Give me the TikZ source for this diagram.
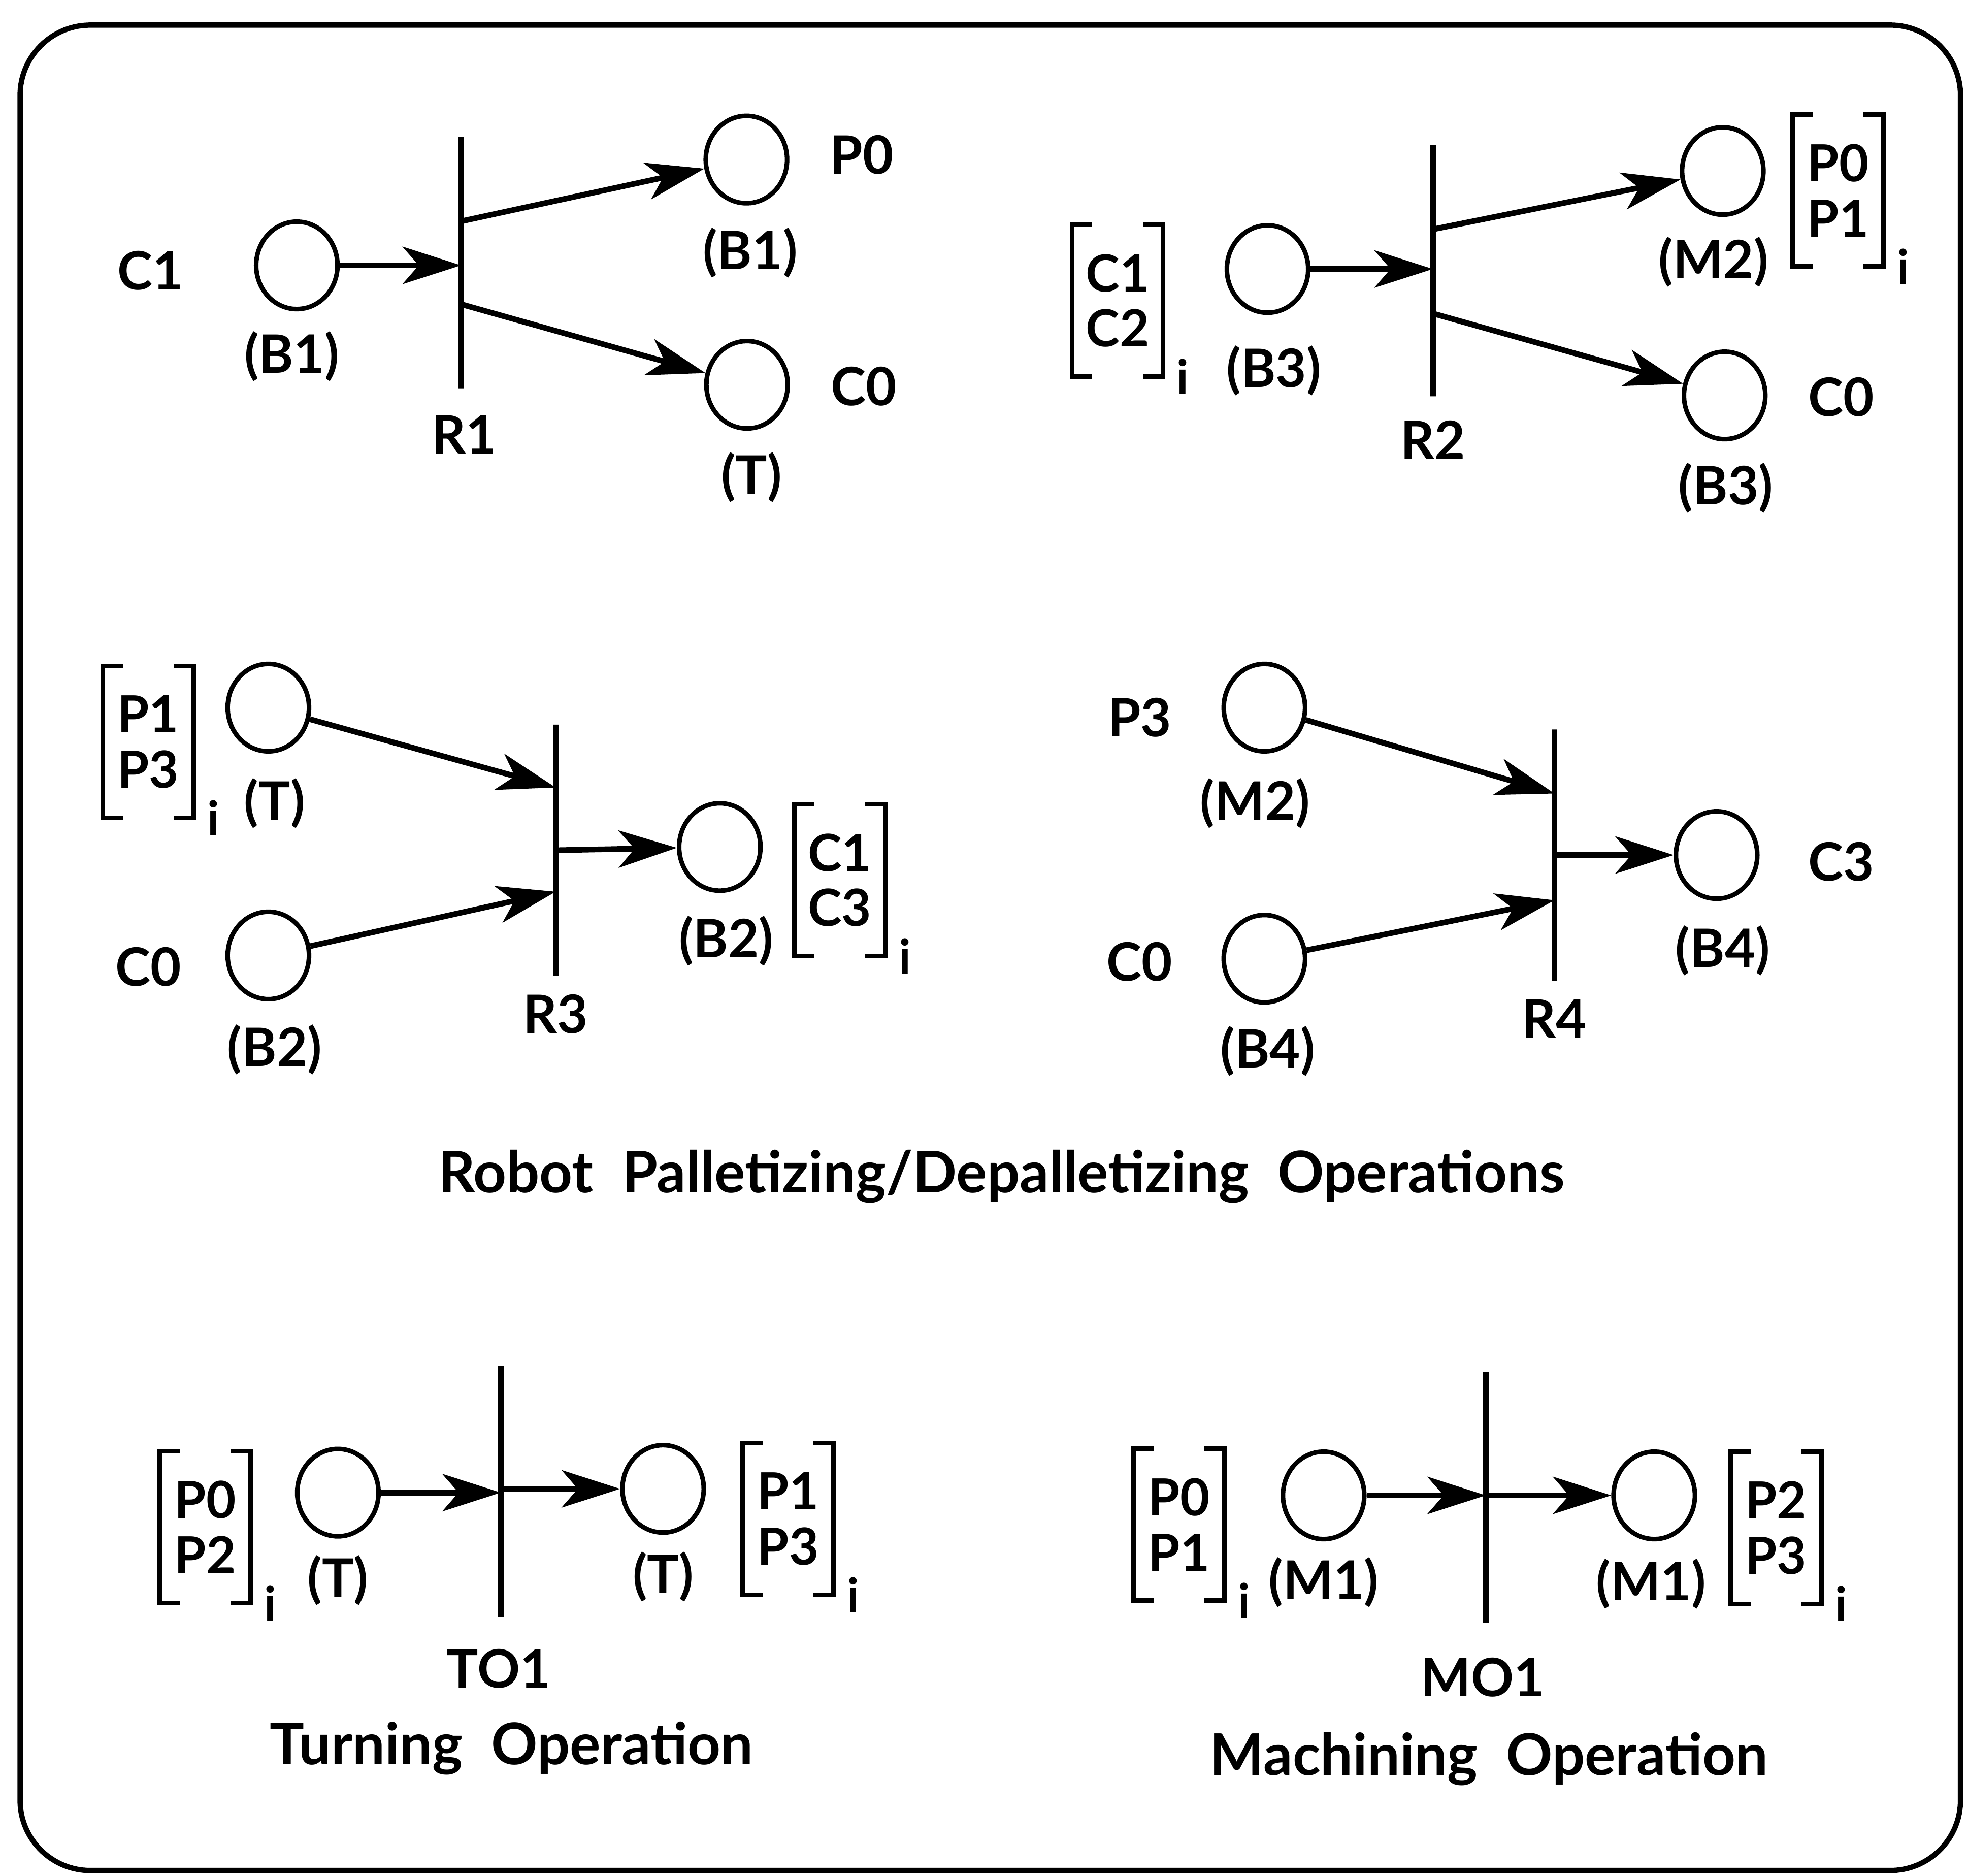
\documentclass[tikz,border=0pt]{standalone}
\usepackage{fontspec}
\setmainfont{Lato}
\usetikzlibrary{arrows.meta,shapes.geometric,calc}
\tikzset{
	place/.style={
		draw, ellipse, minimum width=0.81cm, minimum height=0.87cm,
		inner sep=0pt, line width=1.3pt
	},
	trans/.style={
		draw, rectangle, minimum width=0pt, minimum height=2.5cm,
		inner sep=0pt, line width=1.6pt
	},
	arc/.style={-{Stealth[length=0.58cm, width=0.37cm, inset=0.16cm]}, line width=1.6pt},
	lbl/.style={font=\fontsize{15}{18}\selectfont\bfseries, inner sep=0pt},
	caption/.style={font=\fontsize{16.3}{19}\selectfont\bfseries, inner sep=0pt},
	vec/.style={
		align=center, font=\fontsize{14.5}{15.6}\selectfont\bfseries,
		minimum width=0.89cm, minimum height=1.5cm, inner sep=0pt
	},
	brk/.style={line width=1.3pt},
	sub/.style={font=\fontsize{13.5}{15}\selectfont\bfseries, inner sep=0pt, anchor=west},
	frame/.style={line width=1.5pt, rounded corners=0.7cm}
}
% bracketed pair of tokens with subscript i
\newcommand{\vecnode}[4]{%
	\node[vec] (#1) at (#2) {#3\\#4};
	\draw[brk] ([xshift=0.2cm]#1.north west) -- (#1.north west) -- (#1.south west) -- ([xshift=0.2cm]#1.south west);
	\draw[brk] ([xshift=-0.2cm]#1.north east) -- (#1.north east) -- (#1.south east) -- ([xshift=-0.2cm]#1.south east);
	\node[sub] (#1i) at ([xshift=0.13cm]#1.south east) {i};
}

\begin{document}
\begin{tikzpicture}[x=0.0125cm, y=-0.0125cm]
	\useasboundingbox (0,0) rectangle (1568,1494);
	\draw[frame] (16,20) rectangle (1562,1490);

	% R1
	\node[place] (c1) at (236.5,211.4) {};
	\node[trans] (r1) at (367.3,209.3) {};
	\node[place] (p0) at (594.7,127.1) {};
	\node[place] (c0) at (595.2,306.5) {};
	\node[lbl] (c1name) at (119.7,215.7) {C1};
	\node[lbl] (c1loc) at (232.4,283.8) {(B1)};
	\node[lbl] (r1name) at (369.8,346.2) {R1};
	\node[lbl] (p0name) at (686.7,123.5) {P0};
	\node[lbl] (p0loc) at (597.7,201.5) {(B1)};
	\node[lbl] (c0name) at (688.2,307.9) {C0};
	\node[lbl] (c0loc) at (598.7,380.3) {(T)};
	\draw[arc] (c1) -- (c1 -| r1);
	\draw[arc] ($(r1.center)+(0,-33)$) -- (p0);
	\draw[arc] ($(r1.center)+(0,33)$) -- (c0);

	% R2
	\vecnode{cin}{890.5,239.5}{C1}{C2}
	\node[place] (b3) at (1009.9,214.3) {};
	\node[trans] (r2) at (1141.6,215.7) {};
	\node[place] (m2) at (1372.6,136.2) {};
	\node[place] (c0b) at (1374.1,315) {};
	\vecnode{pout}{1464.5,151.8}{P0}{P1}
	\node[lbl] (b3loc) at (1014.9,295.2) {(B3)};
	\node[lbl] (r2name) at (1141.6,350.5) {R2};
	\node[lbl] (m2loc) at (1365.2,208.6) {(M2)};
	\node[lbl] (c0bname) at (1467,316.4) {C0};
	\node[lbl] (c0bloc) at (1375.1,388.8) {(B3)};
	\draw[arc] (b3) -- (b3 -| r2);
	\draw[arc] ($(r2.center)+(0,-33)$) -- (m2);
	\draw[arc] ($(r2.center)+(0,34)$) -- (c0b);

	% R3
	\vecnode{pin}{118,591}{P1}{P3}
	\node[place] (t) at (213.8,563.7) {};
	\node[place] (b2) at (213.8,761.1) {};
	\node[trans] (r3) at (442.7,677.3) {};
	\node[place] (b2out) at (573.5,674.7) {};
	\vecnode{cout}{669,701}{C1}{C3}
	\node[lbl] (tloc) at (218.8,639.9) {(T)};
	\node[lbl] (b2name) at (118.2,770.2) {C0};
	\node[lbl] (b2loc) at (218.8,836) {(B2)};
	\node[lbl] (r3name) at (442.7,807.6) {R3};
	\node[lbl] (b2outloc) at (578.6,749.5) {(B2)};
	\draw[arc] (t) -- ($(r3.center)+(0,-50)$);
	\draw[arc] (b2) -- ($(r3.center)+(0,33)$);
	\draw[arc] (r3.center) -- (b2out);

	% R4
	\node[place] (m2b) at (1007.4,563.7) {};
	\node[place] (b4) at (1007.4,763.7) {};
	\node[trans] (r4) at (1238.5,681.1) {};
	\node[place] (c3) at (1367.7,681.1) {};
	\node[lbl] (m2bname) at (908,571.5) {P3};
	\node[lbl] (m2bloc) at (1000,639.9) {(M2)};
	\node[lbl] (b4name) at (908,766.3) {C0};
	\node[lbl] (b4loc) at (1010,837.2) {(B4)};
	\node[lbl] (r4name) at (1238.5,811.4) {R4};
	\node[lbl] (c3name) at (1467,686.3) {C3};
	\node[lbl] (c3loc) at (1372.6,757.2) {(B4)};
	\draw[arc] (m2b) -- ($(r4.center)+(0,-49)$);
	\draw[arc] (b4) -- ($(r4.center)+(0,36)$);
	\draw[arc] (r4.center) -- (c3);

	\node[caption] (robot) at (798,937) {Robot\hspace{0.5em}Palletizing/Depalletizing\hspace{0.5em}Operations};

	% TO1
	\vecnode{tin}{163.5,1216.5}{P0}{P2}
	\node[place] (tl) at (269.2,1189) {};
	\node[trans] (to1) at (399,1188) {};
	\node[place] (tr) at (528.3,1186) {};
	\vecnode{tout}{628,1210}{P1}{P3}
	\node[lbl] (tlloc) at (269.2,1258.8) {(T)};
	\node[lbl] (trloc) at (528.3,1256) {(T)};
	\node[lbl] (to1name) at (397.4,1329.3) {TO1};
	\node[caption] (turning) at (407.5,1392.7) {Turning\hspace{0.5em}Operation};
	\draw[arc] (tl) -- (tl -| to1);
	\draw[arc] (to1 |- tr) -- (tr);

	% MO1
	\vecnode{min}{939.5,1214.5}{P0}{P1}
	\node[place] (ml) at (1054.6,1191.2) {};
	\node[trans] (mo1) at (1183.8,1192.7) {};
	\node[place] (mr) at (1318,1191.2) {};
	\vecnode{mout}{1415,1217}{P2}{P3}
	\node[lbl] (mlloc) at (1054.6,1260.3) {(M1)};
	\node[lbl] (mrloc) at (1315.5,1261.7) {(M1)};
	\node[lbl] (mo1name) at (1181.3,1336.3) {MO1};
	\node[caption] (machining) at (1186.3,1401.1) {Machining\hspace{0.5em}Operation};
	\draw[arc] (ml) -- (ml -| mo1);
	\draw[arc] (mo1 |- mr) -- (mr);
\end{tikzpicture}
\end{document}
